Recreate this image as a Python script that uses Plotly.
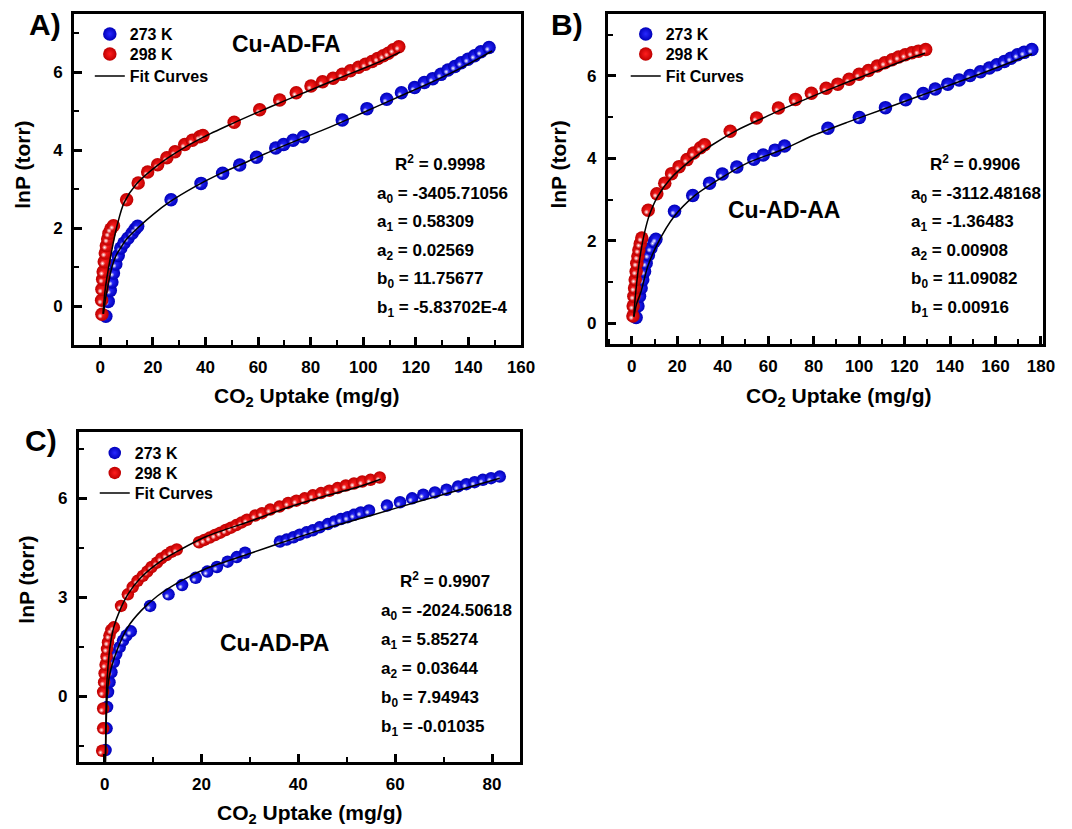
import plotly.graph_objects as go

W, H = 1072, 829
FONT = "Liberation Sans, Arial, sans-serif"

# ---------------- Panel A : Cu-AD-FA ----------------
a_x_273 = [2.1, 3.0, 3.8, 4.4, 5.0, 5.9, 6.8, 7.8, 9.0, 10.5, 12.1, 13.2, 14.2,
           26.9, 38.3, 46.5, 53.0, 59.4, 66.7, 69.7, 73.3, 77.2, 92.0, 101.4,
           108.9, 114.5, 119.5, 123.2, 126.4, 129.5, 132.2, 134.8, 137.2, 139.8,
           142.3, 144.7, 147.8]
a_y_273 = [-0.26, 0.12, 0.4, 0.62, 0.85, 1.08, 1.3, 1.49, 1.62, 1.74, 1.87, 1.97, 2.05,
           2.73, 3.15, 3.41, 3.62, 3.82, 4.06, 4.15, 4.26, 4.35, 4.78, 5.07,
           5.31, 5.48, 5.61, 5.74, 5.84, 5.95, 6.06, 6.15, 6.25, 6.34,
           6.43, 6.53, 6.64]
a_x_298 = [0.5, 0.6, 0.6, 0.9, 1.1, 1.5, 1.9, 2.3, 2.8, 3.3, 4.0, 5.0,
           10.0, 14.4, 18.0, 21.8, 25.3, 28.4, 32.1, 35.0, 37.8, 39.0, 50.9,
           60.6, 68.2, 74.5, 80.1, 84.5, 88.5, 92.0, 95.1, 98.2, 100.8, 103.3,
           105.5, 107.6, 109.5, 111.4, 113.5]
a_y_298 = [0.15, -0.21, 0.43, 0.69, 0.88, 1.14, 1.36, 1.55, 1.72, 1.87, 1.98, 2.06,
           2.73, 3.16, 3.44, 3.63, 3.81, 3.96, 4.15, 4.26, 4.35, 4.38, 4.72,
           5.04, 5.29, 5.48, 5.65, 5.76, 5.85, 5.95, 6.04, 6.13, 6.21, 6.28,
           6.36, 6.43, 6.49, 6.58, 6.66]
a_fit_x_273 = [1.2, 2.0, 3.0, 4.4, 6.0, 7.8, 10, 13.8, 20, 26.5, 35, 45, 55, 65,
               75, 85, 95, 105, 115, 125, 135, 145, 149]
a_fit_y_273 = [-0.2, 0.2, 0.55, 1.0, 1.3, 1.5, 1.72, 1.98, 2.35, 2.68, 3.03, 3.38,
               3.68, 3.98, 4.26, 4.53, 4.82, 5.12, 5.42, 5.72, 6.04, 6.4, 6.55]
a_fit_x_298 = [1.0, 1.5, 2.0, 3.0, 4.0, 5.0, 6.5, 9, 13.8, 21.5, 28.8, 39, 50, 60,
               70, 80, 90, 100, 108, 114]
a_fit_y_298 = [-0.2, 0.2, 0.5, 0.93, 1.3, 1.65, 2.1, 2.65, 3.14, 3.6, 3.94, 4.33,
               4.68, 4.98, 5.27, 5.55, 5.83, 6.1, 6.33, 6.52]
a_params = ["R<sup>2</sup> = 0.9998", "a<sub>0</sub> = -3405.71056",
            "a<sub>1</sub> = 0.58309", "a<sub>2</sub> = 0.02569",
            "b<sub>0</sub> = 11.75677", "b<sub>1</sub> = -5.83702E-4"]

# ---------------- Panel B : Cu-AD-AA ----------------
b_x_273 = [1.9, 2.7, 3.4, 4.1, 4.8, 5.6, 6.3, 7.3, 8.4, 9.9, 10.6, 18.8, 26.8,
           34.2, 39.8, 46.2, 53.7, 57.8, 63.0, 67.2, 86.3, 100.1, 111.6, 120.5,
           128.2, 133.5, 139.0, 144.0, 148.8, 153.4, 157.3, 160.6, 163.9, 166.8,
           169.7, 172.6, 176.0]
b_y_273 = [0.14, 0.42, 0.66, 0.86, 1.06, 1.26, 1.46, 1.66, 1.82, 1.98, 2.04, 2.72, 3.10,
           3.40, 3.62, 3.79, 3.98, 4.08, 4.20, 4.30, 4.73, 4.99, 5.23, 5.42,
           5.57, 5.68, 5.80, 5.90, 6.01, 6.10, 6.19, 6.27, 6.35, 6.43,
           6.51, 6.57, 6.64]
b_x_298 = [0.5, 0.6, 0.9, 1.2, 1.5, 1.9, 2.2, 2.7, 3.1, 3.7, 4.4, 7.2, 11.0, 14.5,
           17.5, 20.8, 24.3, 27.2, 30.2, 32.0, 43.3, 54.9, 64.5, 72.0, 79.0, 85.5,
           90.6, 95.6, 100.0, 104.1, 108.0, 111.3, 114.5, 117.4, 120.3, 123.2,
           126.1, 129.3]
b_y_298 = [0.18, 0.42, 0.66, 0.86, 1.06, 1.26, 1.46, 1.62, 1.78, 1.93, 2.07, 2.74, 3.14,
           3.40, 3.63, 3.80, 3.97, 4.13, 4.26, 4.33, 4.66, 4.98, 5.22, 5.43, 5.58,
           5.70, 5.80, 5.92, 6.04, 6.13, 6.24, 6.32, 6.39, 6.46, 6.51, 6.56,
           6.60, 6.64]
b_fit_x_273 = [0.9, 2, 4.1, 7, 11.4, 18.6, 27.3, 38.9, 50.5, 66.7, 80, 95, 110,
               125, 140, 155, 170, 176]
b_fit_y_273 = [0.15, 0.45, 0.78, 1.38, 1.94, 2.59, 3.08, 3.51, 3.88, 4.22, 4.56,
               4.88, 5.18, 5.48, 5.78, 6.08, 6.4, 6.53]
b_fit_x_298 = [0.9, 1.5, 2.6, 4.1, 5.6, 7.7, 11.4, 17.2, 25.9, 34.6, 46.2, 57.8,
               65.2, 75, 85, 95, 105, 115, 124, 129]
b_fit_y_298 = [0.18, 0.62, 1.2, 1.78, 2.2, 2.62, 3.08, 3.52, 3.95, 4.3, 4.68, 4.98,
               5.17, 5.4, 5.63, 5.85, 6.06, 6.27, 6.46, 6.55]
b_params = ["R<sup>2</sup> = 0.9906", "a<sub>0</sub> = -3112.48168",
            "a<sub>1</sub> = -1.36483", "a<sub>2</sub> = 0.00908",
            "b<sub>0</sub> = 11.09082", "b<sub>1</sub> = 0.00916"]

# ---------------- Panel C : Cu-AD-PA ----------------
c_x_273 = [0.2, 0.4, 0.5, 0.7, 1.0, 1.4, 1.9, 2.4, 3.1, 3.8, 4.5, 5.4, 9.4, 13.2,
           16.0, 18.8, 21.2, 23.2, 25.4, 27.3, 29.0, 36.2, 37.6, 39.0, 40.3, 41.7,
           43.0, 44.4, 46.1, 47.5, 48.8, 50.2, 51.5, 52.9, 54.6, 58.3, 61.0, 63.5,
           65.8, 68.2, 70.6, 73.0, 74.7, 76.4, 78.1, 79.8, 81.6]
c_y_273 = [-1.64, -0.98, -0.33, 0.12, 0.42, 0.72, 1.03, 1.28, 1.48, 1.68, 1.83, 1.96,
           2.73, 3.08, 3.36, 3.58, 3.77, 3.91, 4.07, 4.21, 4.34, 4.68, 4.74, 4.81,
           4.89, 4.96, 5.02, 5.11, 5.21, 5.29, 5.36, 5.42, 5.49, 5.56, 5.62, 5.77,
           5.87, 5.99, 6.10, 6.17, 6.25, 6.35, 6.42, 6.48, 6.55, 6.60, 6.65]
c_x_298 = [-0.5, -0.3, -0.3, -0.3, -0.1, 0.0, 0.2, 0.4, 0.5, 0.7, 1.0, 1.4, 1.9,
           3.4, 4.8, 5.8, 6.8, 7.9, 8.8, 9.7, 10.8, 11.7, 12.8, 13.8, 14.9, 19.5,
           20.6, 21.7, 22.8, 23.9, 25.0, 26.1, 27.2, 28.3, 29.4, 31.1, 32.5, 34.2,
           36.1, 37.9, 39.6, 41.3, 43.0, 44.7, 46.4, 48.1, 49.8, 51.5, 53.2, 54.9,
           56.8]
c_y_298 = [-1.66, -0.98, -0.38, 0.12, 0.42, 0.69, 0.95, 1.2, 1.43, 1.63, 1.83, 2.0,
           2.08, 2.73, 3.08, 3.3, 3.49, 3.64, 3.77, 3.91, 4.04, 4.17, 4.27, 4.37,
           4.44, 4.66, 4.73, 4.80, 4.88, 4.95, 5.03, 5.10, 5.18, 5.26, 5.34, 5.47,
           5.54, 5.65, 5.74, 5.85, 5.92, 5.99, 6.08, 6.15, 6.22, 6.30, 6.38, 6.44,
           6.50, 6.55, 6.62]
c_fit_x_273 = [0.15, 0.3, 0.5, 0.8, 1.4, 2.8, 4.8, 7.5, 10.9, 15.7, 21.1, 30.0, 36,
               45, 55, 65, 75, 81.6]
c_fit_y_273 = [-2.1, -1.0, -0.1, 0.45, 0.87, 1.48, 2.09, 2.58, 3.03, 3.48, 3.87,
               4.32, 4.62, 5.05, 5.47, 5.9, 6.32, 6.6]
c_fit_x_298 = [0.15, 0.25, 0.4, 0.7, 1.1, 1.9, 3.1, 4.8, 7.5, 11.6, 15.7, 21.1,
               30.5, 38, 45, 52, 57]
c_fit_y_298 = [-2.1, -0.9, 0.2, 0.9, 1.48, 2.09, 2.58, 3.08, 3.59, 4.09, 4.44,
               4.84, 5.32, 5.72, 6.04, 6.32, 6.57]
c_params = ["R<sup>2</sup> = 0.9907", "a<sub>0</sub> = -2024.50618",
            "a<sub>1</sub> = 5.85274", "a<sub>2</sub> = 0.03644",
            "b<sub>0</sub> = 7.94943", "b<sub>1</sub> = -0.01035"]

series_names = ["273 K", "298 K", "Fit Curves"]
panel_labels = ["A)", "B)", "C)"]
sample_names = ["Cu-AD-FA", "Cu-AD-AA", "Cu-AD-PA"]
x_title = "CO<sub>2</sub> Uptake (mg/g)"
y_title = "lnP (torr)"

BLUE_EDGE, BLUE_CORE = "rgb(0,0,185)", "rgb(40,40,255)"
RED_EDGE, RED_CORE = "rgb(190,0,0)", "rgb(255,30,30)"

# each legend entry gets its own legend box: (left px, top px) per entry
panels = [
    dict(xs=(a_x_273, a_x_298), ys=(a_y_273, a_y_298),
         fx=(a_fit_x_273, a_fit_x_298), fy=(a_fit_y_273, a_fit_y_298),
         xa="x", ya="y", msize=13.5, leg_left=91, leg_tops=(17, 37, 59)),
    dict(xs=(b_x_273, b_x_298), ys=(b_y_273, b_y_298),
         fx=(b_fit_x_273, b_fit_x_298), fy=(b_fit_y_273, b_fit_y_298),
         xa="x2", ya="y2", msize=13.5, leg_left=634, leg_tops=(17, 37, 59)),
    dict(xs=(c_x_273, c_x_298), ys=(c_y_273, c_y_298),
         fx=(c_fit_x_273, c_fit_x_298), fy=(c_fit_y_273, c_fit_y_298),
         xa="x3", ya="y3", msize=12.5, leg_left=96, leg_tops=(436, 456, 476)),
]


def px(v):
    return v / W


def py(v):
    return 1 - v / H


legend_font = dict(family=FONT, size=16, color="black", weight="bold")
legend_layout = {}
fig = go.Figure()
leg_index = 0
for p in panels:
    leg_names = []
    for top in p["leg_tops"]:
        leg_index += 1
        name = "legend" if leg_index == 1 else f"legend{leg_index}"
        leg_names.append(name)
        legend_layout[name] = dict(x=px(p["leg_left"]), y=py(top), xanchor="left",
                                   yanchor="top", bgcolor="rgba(0,0,0,0)",
                                   borderwidth=0, font=legend_font,
                                   itemsizing="trace")
    for k, (edge, core) in enumerate([(BLUE_EDGE, BLUE_CORE), (RED_EDGE, RED_CORE)]):
        # shaded sphere body
        fig.add_trace(go.Scatter(
            x=p["xs"][k], y=p["ys"][k], mode="markers", name=series_names[k],
            xaxis=p["xa"], yaxis=p["ya"], legend=leg_names[k],
            marker=dict(size=p["msize"], color=edge,
                        gradient=dict(type="radial", color=core),
                        line=dict(width=0)),
        ))
        # specular glint, nudged towards the upper right of each sphere
        fig.add_trace(go.Scatter(
            x=p["xs"][k], y=p["ys"][k], mode="markers", showlegend=False,
            hoverinfo="skip", xaxis=p["xa"], yaxis=p["ya"],
            marker=dict(size=5, color="rgba(255,255,255,0.1)", angle=45,
                        standoff=2.5,
                        gradient=dict(type="radial", color="rgba(255,255,255,1)"),
                        line=dict(width=0)),
        ))
    for k in range(2):
        fig.add_trace(go.Scatter(
            x=p["fx"][k], y=p["fy"][k], mode="lines", name=series_names[2],
            showlegend=(k == 0), xaxis=p["xa"], yaxis=p["ya"], legend=leg_names[2],
            line=dict(color="black", width=1.5, shape="spline", smoothing=0.8),
        ))


tickfont = dict(family=FONT, size=17, color="black", weight="bold")
base_axis = dict(showline=True, linecolor="black", linewidth=3, mirror=True,
                 ticks="inside", ticklen=8, tickwidth=2.5, tickcolor="black",
                 showgrid=False, zeroline=False, tickfont=tickfont,
                 ticklabelstandoff=5)


def axis(rng, dtick, minor_dtick, domain, anchor):
    d = dict(base_axis)
    d.update(range=rng, dtick=dtick, tick0=0, domain=domain, anchor=anchor,
             minor=dict(ticks="inside", ticklen=5, tickwidth=2, tickcolor="black",
                        dtick=minor_dtick, tick0=0, showgrid=False))
    return d


layout = dict(
    width=W, height=H, margin=dict(l=0, r=0, t=0, b=0),
    paper_bgcolor="white", plot_bgcolor="white", showlegend=True,
    xaxis=axis([-10, 160], 20, 10, [px(75), px(528)], "y"),
    yaxis=axis([-1, 7.5], 2, 1, [py(345), py(14)], "x"),
    xaxis2=axis([-10.5, 181], 20, 10, [px(616), px(1057)], "y2"),
    yaxis2=axis([-0.5, 7.5], 2, 1, [py(344), py(14)], "x2"),
    xaxis3=axis([-5.3, 85.8], 20, 10, [px(80), px(527)], "y3"),
    yaxis3=axis([-2, 8], 3, 1.5, [py(762), py(432)], "x3"),
)
layout.update(legend_layout)
fig.update_layout(**layout)

annotations = []


def text(x, y, s, size, anchor="center", angle=0):
    annotations.append(dict(x=px(x), y=py(y), xref="paper", yref="paper", text=s,
                            showarrow=False, xanchor=anchor, yanchor="middle",
                            textangle=angle,
                            font=dict(family=FONT, size=size, color="black",
                                      weight="bold")))


# panel letters
for lab, (x, y) in zip(panel_labels, [(46, 25), (575, 24), (42, 440)]):
    text(x, y, lab, 30)
# sample names
for lab, (x, y) in zip(sample_names, [(290, 44), (794, 210), (278, 643)]):
    text(x, y, lab, 23)
# axis titles
for x, y in [(311, 397), (850, 397), (314, 814)]:
    text(x, y, x_title, 21)
for x, y in [(22, 165), (565, 165), (26, 580)]:
    text(x, y, y_title, 21, angle=-90)
# fit parameters
for params, (rx, ax_, y0, step) in zip(
        [a_params, b_params, c_params],
        [(398, 380, 163, 28.6), (940, 921, 163, 28.6), (403, 384, 580, 28.9)]):
    for i, s in enumerate(params):
        text(rx if i == 0 else ax_, y0 + i * step + (0 if i == 0 else 3), s, 17,
             anchor="left")

fig.update_layout(annotations=annotations)
fig.write_html("out.html")
